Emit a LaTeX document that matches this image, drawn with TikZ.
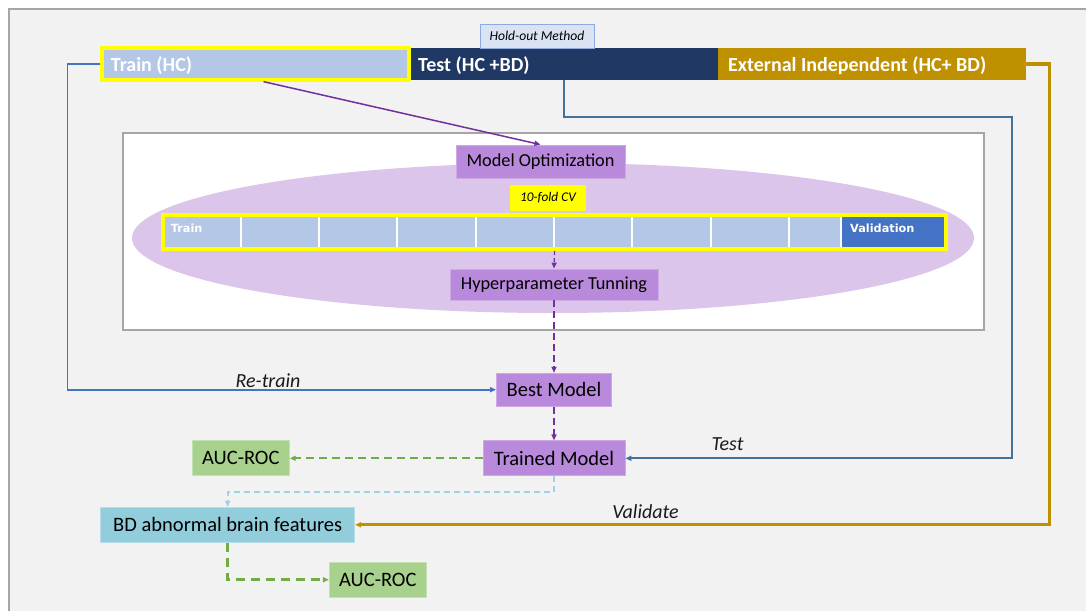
\documentclass[tikz,border=0pt]{standalone}
\usepackage{fontspec}
\setmainfont{Carlito}
\newfontfamily\foldfont{DejaVu Sans}
\usetikzlibrary{arrows.meta,calc}

\definecolor{pagebg}{HTML}{F2F2F2}
\definecolor{framegray}{HTML}{A6A6A6}
\definecolor{trainblue}{HTML}{B4C7E7}
\definecolor{navy}{HTML}{203864}
\definecolor{gold}{HTML}{BF9000}
\definecolor{holdfill}{HTML}{DAE3F3}
\definecolor{holdline}{HTML}{8FAADC}
\definecolor{ovalfill}{HTML}{DCC5EA}
\definecolor{stepfill}{HTML}{B98ADB}
\definecolor{stepline}{HTML}{CDAAE6}
\definecolor{arrowpurple}{HTML}{7030A0}
\definecolor{cvyellow}{HTML}{FFFF00}
\definecolor{valblue}{HTML}{4472C4}
\definecolor{aucfill}{HTML}{A9D18E}
\definecolor{aucline}{HTML}{C5E0B4}
\definecolor{greenline}{HTML}{70AD47}
\definecolor{featfill}{HTML}{92CDDC}
\definecolor{featline}{HTML}{B7DEE8}
\definecolor{skyline}{HTML}{9DD3E8}
\definecolor{testline}{HTML}{41719C}
\definecolor{retrainline}{HTML}{4472C4}
\definecolor{labeltext}{HTML}{1A1A1A}

\begin{document}
\begin{tikzpicture}[x=1pt,y=-1pt,
  flowarrow/.style={-{Triangle[length=6pt,width=5pt]}},
  barbox/.style={rectangle, inner sep=0pt, minimum height=32pt, text=white,
    font=\fontsize{20}{24}\selectfont\bfseries},
  stepbox/.style={rectangle, inner sep=0pt, fill=stepfill, draw=stepline, line width=0.8pt,
    font=\fontsize{20.5}{24}\selectfont},
  smallstep/.style={stepbox, font=\fontsize{18.3}{22}\selectfont},
  aucbox/.style={rectangle, inner sep=0pt, fill=aucfill, draw=aucline, line width=0.8pt,
    minimum width=97pt, minimum height=35pt, font=\fontsize{20.5}{24}\selectfont},
  edgelabel/.style={text=labeltext, font=\fontsize{20}{24}\selectfont\itshape, inner sep=0pt},
  foldlabel/.style={text=white, inner sep=0pt, font=\foldfont\fontsize{11.3}{13}\selectfont\bfseries}
]
\useasboundingbox (0,0) rectangle (1086,610);
\fill[white] (0,0) rectangle (1086,610);

% page frame
\draw[framegray, line width=2.5pt, fill=pagebg] (9,9) rectangle (1100,630);

% inner optimisation panel
\draw[framegray, line width=1.5pt, fill=white] (123,133) rectangle (984,330);
\fill[ovalfill] (553,238) ellipse [x radius=421, y radius=75];

% data split bars
\node[barbox, fill=navy, minimum width=308pt] (test) at (564,64) {};
\node[barbox, fill=gold, minimum width=308pt] (ext) at (872,64) {};
\node[barbox, fill=trainblue, draw=cvyellow, line width=3.3pt, minimum width=307pt] (train) at (255.5,64) {};
\node[barbox, anchor=base west] (traintxt) at (110.7,71.5) {Train (HC)};
\node[barbox, anchor=base west] (testtxt) at (418,71.5) {Test (HC +BD)};
\node[barbox, anchor=base west] (exttxt) at (728,71.5) {External Independent (HC+ BD)};

\node[rectangle, fill=holdfill, draw=holdline, line width=0.8pt, inner sep=0pt,
  minimum width=114pt, minimum height=24pt, font=\fontsize{13.6}{16}\selectfont\itshape]
  (hold) at (537,36) {Hold-out Method};

% model optimisation with 10-fold cross-validation
\node[smallstep, minimum width=169pt, minimum height=33pt] (opt) at (540.5,161.5) {Model Optimization};
\node[rectangle, fill=cvyellow, inner sep=0pt, minimum width=76pt, minimum height=26pt,
  font=\fontsize{13.3}{16}\selectfont\itshape] (cvlabel) at (548,198) {10-fold CV};

\node[rectangle, fill=trainblue, draw=cvyellow, line width=4pt, inner sep=0pt,
  minimum width=783pt, minimum height=34pt] (cv) at (554.5,232) {};
\fill[valblue] (841,217) rectangle (944,247);
\foreach \xd in {241,319,397,476,554,632,711,789,841}
  \draw[white, line width=1.3pt] (\xd,217) -- (\xd,247);
\node[foldlabel, anchor=base west] (foldtrain) at (170.7,232.7) {Train};
\node[foldlabel, anchor=base west] (foldval) at (850,232.7) {Validation};

\node[smallstep, minimum width=208pt, minimum height=31pt] (hyper) at (554,284.5) {Hyperparameter Tunning};

% model stages
\node[stepbox, minimum width=115pt, minimum height=33pt] (best) at (554,389.7) {Best Model};
\node[stepbox, minimum width=142pt, minimum height=35pt] (trained) at (554,458.3) {Trained Model};
\node[aucbox] (auc1) at (240.8,458.3) {AUC-ROC};
\node[rectangle, inner sep=0pt, fill=featfill, draw=featline, line width=0.8pt,
  minimum width=254pt, minimum height=35pt, font=\fontsize{20.5}{24}\selectfont]
  (bd) at (227.7,524.8) {BD abnormal brain features};
\node[aucbox] (auc2) at (377.8,579.7) {AUC-ROC};

% connectors
\draw[arrowpurple, line width=1.5pt, flowarrow] ([xshift=8pt]train.south) -- (opt.north);
\draw[arrowpurple, line width=1.3pt, dash pattern=on 4pt off 3pt, flowarrow] (cv.south) -- (hyper.north);
\draw[arrowpurple, line width=1.8pt, dash pattern=on 7pt off 4pt, flowarrow] (hyper.south) -- (best.north);
\draw[arrowpurple, line width=1.8pt, dash pattern=on 7pt off 4pt, flowarrow] (best.south) -- (trained.north);

\draw[retrainline, line width=1.8pt, flowarrow] (train.west) -- (67.5,64) |- (best.west);
\draw[testline, line width=2pt, flowarrow] (test.south) |- (1012,117) |- (trained.east);
\draw[gold, line width=3pt, flowarrow] (ext.east) -- (1049,64) |- (bd.east);

\draw[greenline, line width=2.3pt, dash pattern=on 8pt off 5pt, flowarrow] (trained.west) -- (auc1.east);
\draw[skyline, line width=2pt, dash pattern=on 6pt off 4pt, flowarrow] (trained.south) -- ++(0,16) -| (bd.north);
\draw[greenline, line width=2.8pt, dash pattern=on 9pt off 6pt, flowarrow] (bd.south) |- (auc2.west);

% connector labels
\node[edgelabel] (retrain) at (268,381) {Re-train};
\node[edgelabel] (testlbl) at (727.5,444) {Test};
\node[edgelabel] (validate) at (645.5,511.5) {Validate};
\end{tikzpicture}
\end{document}
